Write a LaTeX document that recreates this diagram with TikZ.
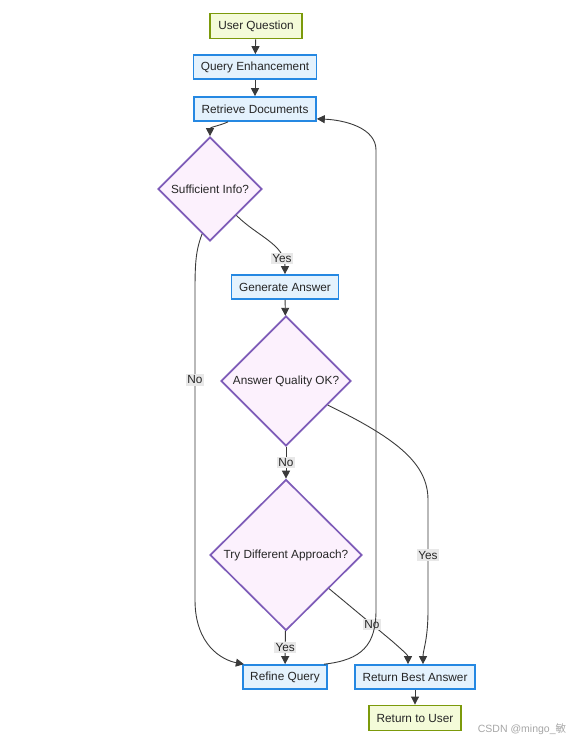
\documentclass[tikz,border=0pt]{standalone}
\usepackage{fontspec}
\setmainfont{Liberation Sans}
\newfontfamily\cjk{Noto Sans CJK SC}
\usepackage{xcolor}
\usetikzlibrary{arrows.meta,shapes.geometric}

\definecolor{termfill}{HTML}{F4FBD9}
\definecolor{termdraw}{HTML}{7C9A0B}
\definecolor{procfill}{HTML}{E4F2FD}
\definecolor{procdraw}{HTML}{2588E2}
\definecolor{decfill}{HTML}{FCF1FD}
\definecolor{decdraw}{HTML}{7E5CB8}
\definecolor{edgecol}{HTML}{3A3A3A}
\definecolor{lblfill}{HTML}{E8E8E8}

\begin{document}
\begin{tikzpicture}[
  x=1pt, y=1pt,
  font=\fontsize{11.8}{13}\selectfont,
  term/.style={rectangle, draw=termdraw, line width=1.9pt, fill=termfill,
               minimum height=25pt, inner xsep=8pt, text=black!85},
  proc/.style={rectangle, draw=procdraw, line width=1.7pt, fill=procfill,
               minimum height=24pt, inner xsep=7.5pt, text=black!85},
  dec/.style={diamond, aspect=1, draw=decdraw, line width=1.7pt, fill=decfill,
              inner sep=0pt, text=black!85},
  lbl/.style={fill=lblfill, inner sep=1.5pt, text=black!85},
  flow/.style={-{Triangle[length=8pt,width=8pt]}, line width=0.9pt, draw=edgecol},
]
\useasboundingbox (0,0) rectangle (577,-741);

% Start / end
\node[term] (UQ)  at (256,-26)  {User Question};
\node[term] (RTU) at (415,-718) {Return to User};

% Processing steps
\node[proc] (QE)  at (255,-67)  {Query Enhancement};
\node[proc] (RD)  at (255,-109) {Retrieve Documents};
\node[proc] (GA)  at (285,-287) {Generate Answer};
\node[proc] (RQ)  at (285,-677) {Refine Query};
\node[proc] (RBA) at (415,-677) {Return Best Answer};

% Decisions
\node[dec, minimum width=104pt, minimum height=104pt] (SI)  at (210,-189) {Sufficient Info?};
\node[dec, minimum width=130pt, minimum height=130pt] (AQ)  at (286,-381) {Answer Quality OK?};
\node[dec, minimum width=152pt, minimum height=151pt] (TDA) at (286,-555) {Try Different Approach?};

% Straight links
\foreach \a/\b in {UQ/QE, QE/RD, GA/AQ, RBA/RTU} {\draw[flow] (\a) -- (\b);}
\draw[flow] (AQ) -- node[lbl]{No} (TDA);
\draw[flow] (TDA) -- node[lbl]{Yes} (RQ);

% Curved links
\draw[flow] ([xshift=-27pt]RD.south) to[out=-155,in=90] (SI.north);
\draw[flow] (SI.-45) to[out=-45,in=90] node[lbl,pos=0.8]{Yes} (GA.north);
\draw[flow] (SI.-100) .. controls (196,-250) and (195,-262) .. (195,-290)
  -- node[lbl,pos=0.29]{No} (195,-600)
  .. controls (195,-645) and (222,-660) .. ([xshift=2pt]RQ.north west);
\draw[flow] (AQ.-30) .. controls (400,-440) and (428,-465) .. (428,-500)
  -- node[lbl]{Yes} (428,-610)
  .. controls (428,-640) and (423,-650) .. ([xshift=8pt]RBA.north);
\draw[flow] (TDA.-38) -- node[lbl,pos=0.68]{No} (392,-641)
  .. controls (401,-649) and (408,-655) .. ([xshift=-7pt]RBA.north);

% Loop back to retrieval
\draw[flow] ([xshift=-4pt]RQ.north east) .. controls (362,-660) and (376,-645) .. (376,-610)
  -- (376,-150)
  .. controls (376,-128) and (345,-120) .. ([yshift=3pt]RD.south east);

% Watermark
\node[text=black!35, font=\fontsize{10.5}{12}\selectfont] (wm) at (522,-729) {CSDN @mingo\_{\cjk 敏}};
\end{tikzpicture}
\end{document}
